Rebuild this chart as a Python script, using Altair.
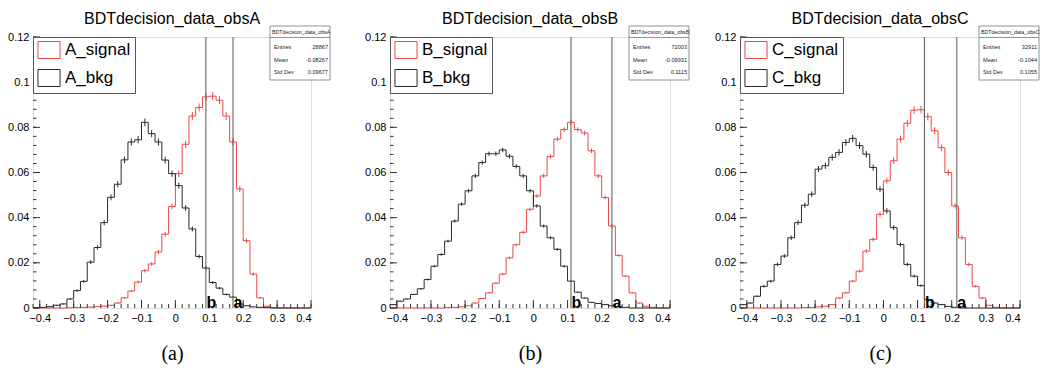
import altair as alt
import pandas as pd

SANS = "Liberation Sans"
SERIF = "Liberation Serif"
RED = "#ec4848"
BLACK = "#2a2a2a"
FRAME = "#333333"

# ---- binning / axes -------------------------------------------------------
bin_lo = [round(-0.42 + 0.02 * i, 2) for i in range(41)]   # left edges of the 41 bins
x_last_edge = 0.40
x_major = [-0.4, -0.3, -0.2, -0.1, 0.0, 0.1, 0.2, 0.3, 0.4]
x_minor = [round(-0.42 + 0.02 * i, 2) for i in range(42)]
y_major = [0.0, 0.02, 0.04, 0.06, 0.08, 0.10, 0.12]
y_minor = [round(0.004 * i, 3) for i in range(31)]

# ---- histogram contents (normalised) ---------------------------------------
A_signal = [0, 0, 0, 0, 0, 0.0001, 0.0002, 0.0003, 0.0004, 0.0006,
            0.0008, 0.0012, 0.0022, 0.0045, 0.0075, 0.0115, 0.0165, 0.0195, 0.0248, 0.0327,
            0.0450, 0.0595, 0.0725, 0.0850, 0.0888, 0.0935, 0.0938, 0.0920, 0.0850, 0.0735,
            0.0527, 0.0298, 0.0150, 0.0045, 0.0008, 0.0002, 0, 0, 0, 0, 0]
A_bkg = [0.0002, 0.0003, 0.0006, 0.0012, 0.0018, 0.0040, 0.0077, 0.0118, 0.0203, 0.0268,
         0.0378, 0.0490, 0.0548, 0.0656, 0.0735, 0.0745, 0.0822, 0.0772, 0.0735, 0.0655,
         0.0595, 0.0542, 0.0443, 0.0350, 0.0228, 0.0177, 0.0113, 0.0088, 0.0060, 0.0048,
         0.0018, 0.0010, 0.0005, 0.0003, 0.0002, 0, 0, 0, 0, 0, 0]
B_signal = [0, 0, 0, 0, 0, 0, 0, 0, 0.0002, 0.0003,
            0.0005, 0.0010, 0.0022, 0.0042, 0.0067, 0.0110, 0.0150, 0.0222, 0.0280, 0.0335,
            0.0437, 0.0496, 0.0585, 0.0671, 0.0748, 0.0790, 0.0822, 0.0790, 0.0775, 0.0696,
            0.0585, 0.0489, 0.0363, 0.0233, 0.0141, 0.0067, 0.0022, 0.0008, 0.0003, 0, 0]
B_bkg = [0.0015, 0.0030, 0.0040, 0.0060, 0.0085, 0.0126, 0.0185, 0.0237, 0.0296, 0.0385,
         0.0460, 0.0519, 0.0585, 0.0644, 0.0683, 0.0683, 0.0700, 0.0672, 0.0627, 0.0585,
         0.0519, 0.0452, 0.0363, 0.0311, 0.0260, 0.0185, 0.0119, 0.0070, 0.0044, 0.0025,
         0.0020, 0.0015, 0.0010, 0.0005, 0.0003, 0, 0, 0, 0, 0, 0]
C_signal = [0, 0, 0, 0, 0, 0, 0, 0, 0, 0.0002,
            0.0002, 0.0005, 0.0008, 0.0015, 0.0044, 0.0067, 0.0119, 0.0163, 0.0252, 0.0304,
            0.0415, 0.0563, 0.0652, 0.0748, 0.0818, 0.0876, 0.0878, 0.0847, 0.0785, 0.0710,
            0.0600, 0.0452, 0.0311, 0.0193, 0.0096, 0.0044, 0.0012, 0.0003, 0, 0, 0]
C_bkg = [0.0015, 0.0022, 0.0052, 0.0096, 0.0119, 0.0193, 0.0230, 0.0311, 0.0378, 0.0455,
         0.0504, 0.0615, 0.0630, 0.0667, 0.0689, 0.0733, 0.0751, 0.0719, 0.0681, 0.0622,
         0.0526, 0.0430, 0.0356, 0.0281, 0.0193, 0.0141, 0.0099, 0.0037, 0.0022, 0.0015,
         0.0007, 0.0003, 0, 0, 0, 0, 0, 0, 0, 0, 0]

# cut positions (line "b", line "a")
cuts_A = [0.09, 0.17]
cuts_B = [0.11, 0.23]
cuts_C = [0.12, 0.215]
cut_labels = ["b", "a"]

# stats boxes
stat_names = ["Entries", "Mean", "Std Dev"]
stats_A = ["28867", "-0.08267", "0.09677"]
stats_B = ["72003", "-0.09931", "0.1115"]
stats_C = ["32911", "-0.1044", "0.1055"]
entries_A, entries_B, entries_C = 28867, 72003, 32911

titles = ["BDTdecision_data_obsA", "BDTdecision_data_obsB", "BDTdecision_data_obsC"]
captions = ["(a)", "(b)", "(c)"]

H = 271


def one(text):
    return pd.DataFrame({"t": [text]})


def panel(letter, sig, bkg, cuts, stats, entries, title, caption, W):
    s_name, b_name = f"{letter}_signal", f"{letter}_bkg"
    rows, errs = [], []
    for name, vals in [(s_name, sig), (b_name, bkg)]:
        for lo, v in zip(bin_lo, vals):
            rows.append({"series": name, "x": lo, "v": v})
            if v > 0:
                errs.append({"series": name, "xc": round(lo + 0.01, 3), "v": v})
        rows.append({"series": name, "x": x_last_edge, "v": vals[-1]})
    hist = pd.DataFrame(rows)
    errdf = pd.DataFrame(errs)
    cutdf = pd.DataFrame({"cut": cuts, "lab": cut_labels})

    xs = alt.Scale(domain=[-0.42, 0.40], nice=False, zero=False)
    ys = alt.Scale(domain=[0, 0.12], nice=False, zero=False)
    cscale = alt.Scale(domain=[s_name, b_name], range=[RED, BLACK])

    legend = alt.Legend(
        orient="none", legendX=0, legendY=0, title=None, direction="vertical",
        fillColor="white", strokeColor="#555555", padding=4,
        labelFont=SANS, labelFontSize=17, labelColor="black",
        symbolType="M-1.3,-1H1.3V1H-1.3Z", symbolSize=289, symbolStrokeWidth=1,
        symbolFillColor="transparent", symbolOffset=3, rowPadding=6, labelOffset=7,
        labelExpr="datum.label + '     '",
    )

    steps = alt.Chart(hist).mark_line(interpolate="step-after", strokeWidth=1).encode(
        x=alt.X("x:Q", scale=xs, axis=alt.Axis(
            orient="bottom", values=x_major, format=".1~f", ticks=False, tickSize=0, domain=False,
            grid=False, labelFont=SANS, labelFontSize=11, labelPadding=4, labelColor="black",
            title=caption, titleFont=SERIF, titleFontSize=20, titleFontWeight="normal",
            titleColor="black", titlePadding=20)),
        y=alt.Y("v:Q", scale=ys, axis=alt.Axis(
            orient="left", values=y_major, format=".2~f", ticks=False, tickSize=0, domain=False,
            grid=False, labelFont=SANS, labelFontSize=11, labelPadding=4, labelColor="black",
            title=None)),
        color=alt.Color("series:N", scale=cscale, legend=legend),
    )

    errbars = alt.Chart(errdf).transform_calculate(
        e=f"sqrt(datum.v / {entries})"
    ).transform_calculate(
        lo="datum.v - datum.e", hi="datum.v + datum.e"
    ).mark_rule(strokeWidth=1).encode(
        x=alt.X("xc:Q", scale=xs, axis=None),
        y=alt.Y("lo:Q", scale=ys, axis=None),
        y2="hi:Q",
        color=alt.Color("series:N", scale=cscale, legend=None),
    )

    # inside-pointing ROOT style ticks
    xmaj = alt.Chart(pd.DataFrame({"t": x_major})).mark_rule(color=FRAME, strokeWidth=1).encode(
        x=alt.X("t:Q", scale=xs, axis=None), y=alt.value(H), y2=alt.value(H - 8))
    xmin = alt.Chart(pd.DataFrame({"t": x_minor})).mark_rule(color=FRAME, strokeWidth=1).encode(
        x=alt.X("t:Q", scale=xs, axis=None), y=alt.value(H), y2=alt.value(H - 4))
    ymaj = alt.Chart(pd.DataFrame({"t": y_major})).mark_rule(color=FRAME, strokeWidth=1).encode(
        y=alt.Y("t:Q", scale=ys, axis=None), x=alt.value(0), x2=alt.value(7))
    ymin = alt.Chart(pd.DataFrame({"t": y_minor})).mark_rule(color=FRAME, strokeWidth=1).encode(
        y=alt.Y("t:Q", scale=ys, axis=None), x=alt.value(0), x2=alt.value(3.5))

    cut_rules = alt.Chart(cutdf).mark_rule(color="#555555", strokeWidth=1).encode(
        x=alt.X("cut:Q", scale=xs, axis=None),
    )

    cut_text = alt.Chart(cutdf).transform_calculate(y0="0").mark_text(
        align="left", baseline="alphabetic", dx=0.5, font=SANS, fontSize=16,
        fontWeight="bold", color="black",
    ).encode(
        x=alt.X("cut:Q", scale=xs, axis=None),
        y=alt.Y("y0:Q", scale=ys, axis=None),
        text="lab:N",
    )

    title_txt = alt.Chart(one(title)).mark_text(
        font=SANS, fontSize=16, baseline="alphabetic", align="center", color="black"
    ).encode(x=alt.value(W / 2), y=alt.value(-13), text="t:N")

    bx0, bx1 = W - 41, W + 19
    box = alt.Chart(one("box")).mark_rect(
        fill="white", stroke="#777777", strokeWidth=0.8
    ).encode(x=alt.value(bx0), x2=alt.value(bx1), y=alt.value(-11), y2=alt.value(43))
    sep = alt.Chart(one("sep")).mark_rule(color="#777777", strokeWidth=0.8).encode(
        x=alt.value(bx0), x2=alt.value(bx1), y=alt.value(0.5))
    header = alt.Chart(one(title)).mark_text(
        font=SANS, fontSize=5.3, align="left", baseline="alphabetic", color="#222222"
    ).encode(x=alt.value(bx0 + 2), y=alt.value(-3.5), text="t:N")

    layers = [steps, errbars, xmaj, xmin, ymaj, ymin, cut_rules, cut_text,
              title_txt, box, sep, header]
    for k in range(3):
        yy = 12 + 12.5 * k
        layers.append(alt.Chart(one(stat_names[k])).mark_text(
            font=SANS, fontSize=5.6, align="left", baseline="alphabetic", color="#222222"
        ).encode(x=alt.value(bx0 + 4), y=alt.value(yy), text="t:N"))
        layers.append(alt.Chart(one(stats[k])).mark_text(
            font=SANS, fontSize=5.6, align="right", baseline="alphabetic", color="#222222"
        ).encode(x=alt.value(bx1 - 2), y=alt.value(yy), text="t:N"))

    return alt.layer(*layers).resolve_axis(x="independent", y="independent").properties(
        width=W, height=H)


pA = panel("A", A_signal, A_bkg, cuts_A, stats_A, entries_A, titles[0], captions[0], 278)
pB = panel("B", B_signal, B_bkg, cuts_B, stats_B, entries_B, titles[1], captions[1], 280)
pC = panel("C", C_signal, C_bkg, cuts_C, stats_C, entries_C, titles[2], captions[2], 280)

inner = alt.hconcat(pB, pC, spacing=70, bounds="flush").resolve_scale(
    color="independent", x="independent", y="independent")
chart = alt.hconcat(pA, inner, spacing=79, bounds="flush").resolve_scale(
    color="independent", x="independent", y="independent"
).properties(
    padding={"left": 7, "top": 10, "right": 2, "bottom": 2}
).configure_view(
    stroke=FRAME, strokeWidth=1
).configure(background="white")

chart.save("out.html", embed_options={"renderer": "svg", "actions": False})
